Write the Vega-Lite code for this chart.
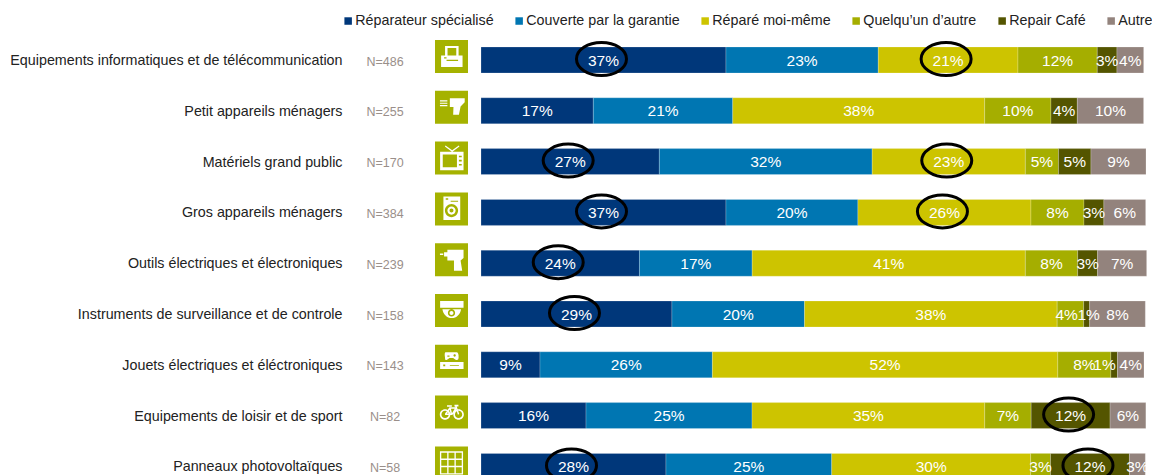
{"$schema":"https://vega.github.io/schema/vega-lite/v6.json","autosize":"none","width":663,"height":440,"padding":{"left":481,"top":34.6,"right":8,"bottom":0.4},"background":"white","config":{"view":{"stroke":null},"font":"Liberation Sans"},
"datasets":{"bars":[
{"cat":"Equipements informatiques et de télécommunication","series":"Réparateur spécialisé","seq":1,"value":36.95,"label":"37%","circled":true},
{"cat":"Equipements informatiques et de télécommunication","series":"Couverte par la garantie","seq":2,"value":22.97,"label":"23%","circled":false},
{"cat":"Equipements informatiques et de télécommunication","series":"Réparé moi-même","seq":3,"value":21.07,"label":"21%","circled":true},
{"cat":"Equipements informatiques et de télécommunication","series":"Quelqu’un d’autre","seq":4,"value":11.96,"label":"12%","circled":false},
{"cat":"Equipements informatiques et de télécommunication","series":"Repair Café","seq":5,"value":2.97,"label":"3%","circled":false},
{"cat":"Equipements informatiques et de télécommunication","series":"Autre","seq":6,"value":4.03,"label":"4%","circled":false},
{"cat":"Petit appareils ménagers","series":"Réparateur spécialisé","seq":1,"value":16.94,"label":"17%","circled":false},
{"cat":"Petit appareils ménagers","series":"Couverte par la garantie","seq":2,"value":21.03,"label":"21%","circled":false},
{"cat":"Petit appareils ménagers","series":"Réparé moi-même","seq":3,"value":38.0,"label":"38%","circled":false},
{"cat":"Petit appareils ménagers","series":"Quelqu’un d’autre","seq":4,"value":10.0,"label":"10%","circled":false},
{"cat":"Petit appareils ménagers","series":"Repair Café","seq":5,"value":3.97,"label":"4%","circled":false},
{"cat":"Petit appareils ménagers","series":"Autre","seq":6,"value":10.0,"label":"10%","circled":false},
{"cat":"Matériels grand public","series":"Réparateur spécialisé","seq":1,"value":26.9,"label":"27%","circled":true},
{"cat":"Matériels grand public","series":"Couverte par la garantie","seq":2,"value":32.1,"label":"32%","circled":false},
{"cat":"Matériels grand public","series":"Réparé moi-même","seq":3,"value":23.1,"label":"23%","circled":true},
{"cat":"Matériels grand public","series":"Quelqu’un d’autre","seq":4,"value":5.0,"label":"5%","circled":false},
{"cat":"Matériels grand public","series":"Repair Café","seq":5,"value":4.9,"label":"5%","circled":false},
{"cat":"Matériels grand public","series":"Autre","seq":6,"value":8.3,"label":"9%","circled":false},
{"cat":"Gros appareils ménagers","series":"Réparateur spécialisé","seq":1,"value":36.95,"label":"37%","circled":true},
{"cat":"Gros appareils ménagers","series":"Couverte par la garantie","seq":2,"value":19.9,"label":"20%","circled":false},
{"cat":"Gros appareils ménagers","series":"Réparé moi-même","seq":3,"value":26.1,"label":"26%","circled":true},
{"cat":"Gros appareils ménagers","series":"Quelqu’un d’autre","seq":4,"value":8.0,"label":"8%","circled":false},
{"cat":"Gros appareils ménagers","series":"Repair Café","seq":5,"value":3.0,"label":"3%","circled":false},
{"cat":"Gros appareils ménagers","series":"Autre","seq":6,"value":6.3,"label":"6%","circled":false},
{"cat":"Outils électriques et électroniques","series":"Réparateur spécialisé","seq":1,"value":23.9,"label":"24%","circled":true},
{"cat":"Outils électriques et électroniques","series":"Couverte par la garantie","seq":2,"value":17.0,"label":"17%","circled":false},
{"cat":"Outils électriques et électroniques","series":"Réparé moi-même","seq":3,"value":41.2,"label":"41%","circled":false},
{"cat":"Outils électriques et électroniques","series":"Quelqu’un d’autre","seq":4,"value":7.9,"label":"8%","circled":false},
{"cat":"Outils électriques et électroniques","series":"Repair Café","seq":5,"value":3.0,"label":"3%","circled":false},
{"cat":"Outils électriques et électroniques","series":"Autre","seq":6,"value":7.4,"label":"7%","circled":false},
{"cat":"Instruments de surveillance et de controle","series":"Réparateur spécialisé","seq":1,"value":28.8,"label":"29%","circled":true},
{"cat":"Instruments de surveillance et de controle","series":"Couverte par la garantie","seq":2,"value":20.0,"label":"20%","circled":false},
{"cat":"Instruments de surveillance et de controle","series":"Réparé moi-même","seq":3,"value":38.1,"label":"38%","circled":false},
{"cat":"Instruments de surveillance et de controle","series":"Quelqu’un d’autre","seq":4,"value":4.0,"label":"4%","circled":false},
{"cat":"Instruments de surveillance et de controle","series":"Repair Café","seq":5,"value":0.9,"label":"1%","circled":false},
{"cat":"Instruments de surveillance et de controle","series":"Autre","seq":6,"value":8.4,"label":"8%","circled":false},
{"cat":"Jouets électriques et éléctroniques","series":"Réparateur spécialisé","seq":1,"value":8.9,"label":"9%","circled":false},
{"cat":"Jouets électriques et éléctroniques","series":"Couverte par la garantie","seq":2,"value":26.0,"label":"26%","circled":false},
{"cat":"Jouets électriques et éléctroniques","series":"Réparé moi-même","seq":3,"value":52.1,"label":"52%","circled":false},
{"cat":"Jouets électriques et éléctroniques","series":"Quelqu’un d’autre","seq":4,"value":8.0,"label":"8%","circled":false},
{"cat":"Jouets électriques et éléctroniques","series":"Repair Café","seq":5,"value":1.0,"label":"1%","circled":false},
{"cat":"Jouets électriques et éléctroniques","series":"Autre","seq":6,"value":4.0,"label":"4%","circled":false},
{"cat":"Equipements de loisir et de sport","series":"Réparateur spécialisé","seq":1,"value":15.84,"label":"16%","circled":false},
{"cat":"Equipements de loisir et de sport","series":"Couverte par la garantie","seq":2,"value":25.04,"label":"25%","circled":false},
{"cat":"Equipements de loisir et de sport","series":"Réparé moi-même","seq":3,"value":35.1,"label":"35%","circled":false},
{"cat":"Equipements de loisir et de sport","series":"Quelqu’un d’autre","seq":4,"value":7.0,"label":"7%","circled":false},
{"cat":"Equipements de loisir et de sport","series":"Repair Café","seq":5,"value":11.9,"label":"12%","circled":true},
{"cat":"Equipements de loisir et de sport","series":"Autre","seq":6,"value":5.4,"label":"6%","circled":false},
{"cat":"Panneaux photovoltaïques","series":"Réparateur spécialisé","seq":1,"value":27.9,"label":"28%","circled":true},
{"cat":"Panneaux photovoltaïques","series":"Couverte par la garantie","seq":2,"value":25.0,"label":"25%","circled":false},
{"cat":"Panneaux photovoltaïques","series":"Réparé moi-même","seq":3,"value":30.0,"label":"30%","circled":false},
{"cat":"Panneaux photovoltaïques","series":"Quelqu’un d’autre","seq":4,"value":3.0,"label":"3%","circled":false},
{"cat":"Panneaux photovoltaïques","series":"Repair Café","seq":5,"value":11.9,"label":"12%","circled":true},
{"cat":"Panneaux photovoltaïques","series":"Autre","seq":6,"value":2.4,"label":"3%","circled":false}
],
"cats":[
{"cat":"Equipements informatiques et de télécommunication","n":"N=486"},
{"cat":"Petit appareils ménagers","n":"N=255"},
{"cat":"Matériels grand public","n":"N=170"},
{"cat":"Gros appareils ménagers","n":"N=384"},
{"cat":"Outils électriques et électroniques","n":"N=239"},
{"cat":"Instruments de surveillance et de controle","n":"N=158"},
{"cat":"Jouets électriques et éléctroniques","n":"N=143"},
{"cat":"Equipements de loisir et de sport","n":"N=82"},
{"cat":"Panneaux photovoltaïques","n":"N=58"}
]},
"encoding":{"y":{"field":"cat","type":"nominal","title":null,"sort":null,"scale":{"domain":["Equipements informatiques et de télécommunication","Petit appareils ménagers","Matériels grand public","Gros appareils ménagers","Outils électriques et électroniques","Instruments de surveillance et de controle","Jouets électriques et éléctroniques","Equipements de loisir et de sport","Panneaux photovoltaïques"],"range":[0,457.2],"paddingInner":0.488,"paddingOuter":0.244},"axis":{"domain":false,"ticks":false,"grid":false,"labelPadding":139,"labelOffset":1,"labelFontSize":14.3,"labelColor":"#222222","labelLimit":400,"labelFont":"Liberation Sans"}}},
"layer":[
{"data":{"name":"bars"},"mark":{"type":"bar","stroke":"#ffffff","strokeOpacity":0.3,"strokeWidth":0.7},"encoding":{"x":{"field":"value","type":"quantitative","stack":"zero","axis":null,"scale":{"domain":[0,100],"nice":false,"zero":false}},"order":{"field":"seq"},"color":{"field":"series","type":"nominal","title":null,"scale":{"domain":["Réparateur spécialisé","Couverte par la garantie","Réparé moi-même","Quelqu’un d’autre","Repair Café","Autre"],"range":["#00377A","#0076B2","#CDC400","#A5AE00","#545500","#93837D"]},"legend":{"orient":"none","legendX":-140,"legendY":-21,"direction":"horizontal","columns":6,"symbolType":"square","symbolSize":56,"symbolStrokeWidth":0,"symbolOpacity":1,"labelFontSize":14.3,"labelColor":"#222222","labelOffset":0,"columnPadding":18,"labelLimit":300,"title":null}}}},
{"data":{"name":"cats"},"mark":{"type":"point","filled":true,"shape":"square","size":1089,"color":"#A5B200","opacity":1,"yOffset":-3.5},"encoding":{"x":{"datum":-4.45,"type":"quantitative"}}},
{"data":{"name":"cats"},"mark":{"type":"point","filled":true,"size":1089,"color":"#ffffff","opacity":1,"yOffset":-3.5},"encoding":{"x":{"datum":-4.45,"type":"quantitative"},"shape":{"field":"cat","type":"nominal","legend":null,"scale":{"domain":["Equipements informatiques et de télécommunication","Petit appareils ménagers","Matériels grand public","Gros appareils ménagers","Outils électriques et électroniques","Instruments de surveillance et de controle","Jouets électriques et éléctroniques","Equipements de loisir et de sport","Panneaux photovoltaïques"],"range":[
"M-.63-.06H-.39V-.63H.43V-.06H.67V.63H-.63ZM-.24-.06H.29V-.51H-.24ZM-.3.2V.28H.4V.2ZM-.45.05V.12H-.3V.05Z",
"M-.1-.55H.8V-.3L.55-.05L.45.45H.1L.12-.02H-.1ZM-.7-.42H-.25V-.35H-.7ZM-.7-.28H-.25V-.21H-.7ZM-.7-.14H-.25V-.07H-.7Z",
"M-.69-.39H.73V.73H-.69ZM-.53-.22V.55H.33V-.22ZM.45-.15V-.05H.62V-.15ZM.45.1V.2H.62V.1ZM.45.35V.45H.62V.35ZM.02-.39L-.4-.7L-.36-.76L.04-.47L.44-.76L.48-.7L.06-.39Z",
"M-.49-.75H.53V.67H-.49ZM-.35-.65V-.55H-.2V-.65ZM-.05-.5V-.44H.4V-.5ZM-.4.1A.4.4 0 1 0 .4.1A.4.4 0 1 0-.4.1ZM-.25.1A.25.25 0 1 1 .25.1A.25.25 0 1 1-.25.1ZM-.12.1A.12.12 0 1 0 .12.1A.12.12 0 1 0-.12.1Z",
"M-.25-.6H.73V-.1L.55.05L.65.67H.15L.15.05H-.25ZM-.45-.45H-.25V-.2H-.45ZM-.7-.37H-.5V-.28H-.7Z",
"M-.69-.57H.73V-.16H-.69ZM-.55-.08H.58A.57.62 0 0 1-.55-.08ZM-.22.15A.22.22 0 1 0 .22.15A.22.22 0 1 0-.22.15ZM-.12.15A.12.12 0 1 1 .12.15A.12.12 0 1 1-.12.15Z",
"M-.69.04H.73V.47H-.69ZM-.1.22V.27H.45V.22ZM-.5.2V.3H-.38V.2ZM-.35-.55H.3Q.45-.55.43-.2Q.42-.04.25-.1L.1-.2H-.12L-.27-.1Q-.42-.04-.39-.2Q-.45-.55-.35-.55ZM-.25-.35V-.28H-.12V-.35ZM.12-.35A.07.07 0 1 0 .26-.35A.07.07 0 1 0 .12-.35Z",
"M-.71.14A.32.32 0 1 1-.07.14A.32.32 0 1 1-.71.14ZM-.61.14A.22.22 0 1 0-.17.14A.22.22 0 1 0-.61.14ZM.11.14A.32.32 0 1 1 .75.14A.32.32 0 1 1 .11.14ZM.21.14A.22.22 0 1 0 .65.14A.22.22 0 1 0 .21.14ZM-.1-.3H.25V-.2H-.1ZM-.39.08L-.12-.3L-.04-.24L-.28.08H.02L.25-.3L.33-.24L.05.18H-.39ZM-.14-.27L-.05-.27L.05.15L-.04.18ZM.2-.42H.29L.47.12L.39.16ZM-.27-.42H.02V-.32H-.27ZM.18-.44H.42V-.34H.18Z",
"M-.7-.7H.7V.7H-.7ZM-.62-.62V-.26H-.26V-.62ZM-.18-.62V-.26H.18V-.62ZM.26-.62V-.26H.62V-.62ZM-.62-.18V.18H-.26V-.18ZM-.18-.18V.18H.18V-.18ZM.26-.18V.18H.62V-.18ZM-.62.26V.62H-.26V.26ZM-.18.26V.62H.18V.26ZM.26.26V.62H.62V.26Z"
]}}}},
{"data":{"name":"cats"},"mark":{"type":"text","fontSize":12.5,"color":"#9A8F8A","align":"center","baseline":"middle","yOffset":1.5},"encoding":{"x":{"datum":-14.48,"type":"quantitative"},"text":{"field":"n"}}},
{"data":{"name":"bars"},"mark":{"type":"text","color":"#ffffff","fontSize":15.5,"align":"center","baseline":"middle","yOffset":0.5},"encoding":{"x":{"field":"value","type":"quantitative","stack":"zero","bandPosition":0.5},"detail":{"field":"series"},"order":{"field":"seq"},"text":{"condition":{"test":"(datum.cat=='Jouets électriques et éléctroniques'&&datum.seq==5)||(datum.cat=='Instruments de surveillance et de controle'&&(datum.seq==4||datum.seq==5))","value":""},"field":"label"}}},
{"data":{"name":"bars"},"transform":[{"stack":"value","groupby":["cat"],"sort":[{"field":"seq","order":"ascending"}],"as":["s0","s1"]},{"filter":"datum.cat=='Jouets électriques et éléctroniques'&&datum.seq==5"}],"mark":{"type":"text","color":"#ffffff","fontSize":15.5,"align":"center","baseline":"middle","yOffset":0.5,"dx":-13},"encoding":{"x":{"field":"s1","type":"quantitative"},"text":{"field":"label"}}},
{"data":{"name":"bars"},"transform":[{"stack":"value","groupby":["cat"],"sort":[{"field":"seq","order":"ascending"}],"as":["s0","s1"]},{"filter":"datum.cat=='Instruments de surveillance et de controle'&&datum.seq==4"}],"mark":{"type":"text","color":"#ffffff","fontSize":15.5,"align":"center","baseline":"middle","yOffset":0.5,"dx":-17},"encoding":{"x":{"field":"s1","type":"quantitative"},"text":{"field":"label"}}},
{"data":{"name":"bars"},"transform":[{"stack":"value","groupby":["cat"],"sort":[{"field":"seq","order":"ascending"}],"as":["s0","s1"]},{"filter":"datum.cat=='Instruments de surveillance et de controle'&&datum.seq==5"}],"mark":{"type":"text","color":"#ffffff","fontSize":15.5,"align":"center","baseline":"middle","yOffset":0.5,"dx":-1},"encoding":{"x":{"field":"s1","type":"quantitative"},"text":{"field":"label"}}},
{"data":{"name":"bars"},"mark":{"type":"point","filled":false,"opacity":1,"shape":"M-1 0A1 .66 0 1 1 1 0A1 .66 0 1 1-1 0Z","size":2500,"stroke":"#000000","strokeWidth":3,"yOffset":-1,"xOffset":-2},"encoding":{"x":{"field":"value","type":"quantitative","stack":"zero","bandPosition":0.5},"detail":{"field":"series"},"order":{"field":"seq"},"strokeOpacity":{"condition":{"test":"datum.circled","value":1},"value":0}}}
]}
